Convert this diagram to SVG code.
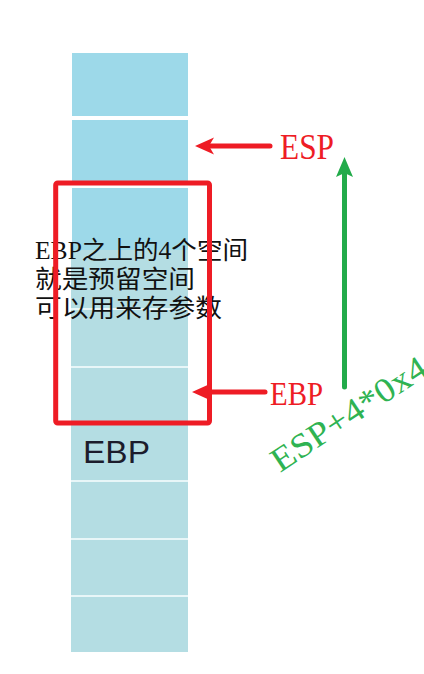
<svg xmlns="http://www.w3.org/2000/svg" width="424" height="674" viewBox="0 0 424 674">
<style>
.top{fill:#9dd9e9}
.low{fill:#b4dde3}
.sep{stroke:#e8f6f8;stroke-width:2}
.red{fill:#ee1c25;font-family:"Liberation Serif",serif}
.green{fill:#2fb352;font-family:"Liberation Serif",serif}
.note{fill:#111;font-family:"Liberation Serif","Noto Sans CJK SC",serif;font-size:25px}
</style>
<rect width="424" height="674" fill="#fff"/>
<g id="stack">
<rect class="top" x="72" y="53" width="116" height="63"/>
<rect class="top" x="72" y="120" width="116" height="63"/>
<rect class="top" x="72" y="188" width="116" height="62"/>
<rect class="low" x="71" y="250" width="117" height="402"/>
<line class="sep" x1="71" y1="309" x2="188" y2="309"/>
<line class="sep" x1="71" y1="367" x2="188" y2="367"/>
<line class="sep" x1="71" y1="423" x2="188" y2="423"/>
<line class="sep" x1="71" y1="481" x2="188" y2="481"/>
<line class="sep" x1="71" y1="539" x2="188" y2="539"/>
<line class="sep" x1="71" y1="596" x2="188" y2="596"/>
</g>
<g id="ebp-cell">
<text x="83" y="463" font-family="Liberation Sans, Arial, sans-serif" font-size="32" fill="#1c1c2c" textLength="67" lengthAdjust="spacingAndGlyphs">EBP</text>
</g>
<g id="note">
<text class="note" x="35" y="259" textLength="213" lengthAdjust="spacingAndGlyphs">EBP之上的4个空间</text>
<text class="note" x="35" y="288" textLength="160" lengthAdjust="spacingAndGlyphs">就是预留空间</text>
<text class="note" x="35" y="317" textLength="187" lengthAdjust="spacingAndGlyphs">可以用来存参数</text>
</g>
<g id="reserved-box">
<rect x="55.7" y="183" width="153.8" height="240" rx="2" fill="none" stroke="#ee1c25" stroke-width="5"/>
</g>
<g id="esp-label">
<text class="red" x="280" y="159" font-size="36" textLength="54" lengthAdjust="spacingAndGlyphs">ESP</text>
</g>
<g id="ebp-label">
<text class="red" x="270" y="405" font-size="34" textLength="53" lengthAdjust="spacingAndGlyphs">EBP</text>
</g>
<g id="offset-label">
<text class="green" x="0" y="0" font-size="34" transform="translate(280,473) rotate(-33.5)" textLength="180" lengthAdjust="spacingAndGlyphs">ESP+4*0x4</text>
</g>
<g id="connectors">
<line x1="270" y1="146" x2="208" y2="146" stroke="#ee1c25" stroke-width="5" stroke-linecap="round"/>
<polygon points="195,146 214,137.5 209,146 214,154.5" fill="#ee1c25"/>
<line x1="265" y1="392" x2="205" y2="392" stroke="#ee1c25" stroke-width="5" stroke-linecap="round"/>
<polygon points="192,392 212,383 207,392 212,401" fill="#ee1c25"/>
<line x1="344.5" y1="387" x2="344.5" y2="172" stroke="#22ab4a" stroke-width="5" stroke-linecap="round"/>
<polygon points="344.5,157 353,177 344.5,173 336,177" fill="#22ab4a"/>
</g>
</svg>
